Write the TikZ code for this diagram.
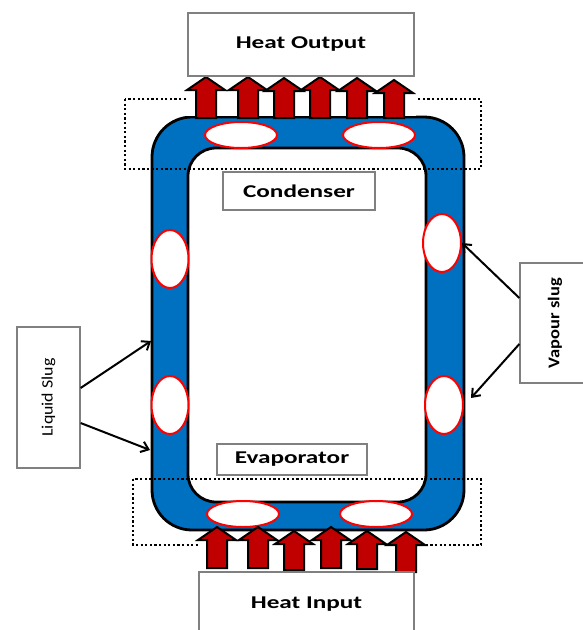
\documentclass[tikz,border=0pt]{standalone}
\usepackage{fontspec}
\setmainfont{Carlito}
\usetikzlibrary{arrows.meta,calc,shapes.geometric}
\definecolor{tubeblue}{HTML}{0070C0}
\definecolor{heatred}{HTML}{C00000}
\definecolor{boxgray}{HTML}{808080}
% block arrow: centre x, tip y, shaft end y
\newcommand\heatarrow[3]{\filldraw[heat] (#1-10,#3) -- (#1-10,#2+13) -- (#1-19,#2+13) -- (#1,#2) -- (#1+19,#2+13) -- (#1+10,#2+13) -- (#1+10,#3) -- cycle;}
\newcommand\widetext[1]{\scalebox{1.4}[1]{#1}}
\tikzset{
  labelbox/.style={draw=boxgray, line width=1.3pt, fill=white, inner sep=0pt},
  boldlabel/.style={font=\bfseries\fontsize{18}{18}\selectfont},
  bubble/.style={ellipse, draw=red, line width=2pt, fill=white, inner sep=0pt},
  heat/.style={fill=heatred, draw=black, line width=2pt, line join=miter},
  zone/.style={draw=black, line width=2.2pt, dash pattern=on 2.2pt off 2.4pt},
  pointer/.style={draw=black, line width=2pt, -{Straight Barb[length=7pt,width=11pt]}},
  tube/.style={draw=black, line width=2.8pt},
}
\begin{document}
\begin{tikzpicture}[x=1pt,y=-1pt]
\useasboundingbox (0,0) rectangle (582,630);

% pulsating loop
\filldraw[tube, fill=tubeblue, rounded corners=40pt] (152,117) rectangle (464,530);
\filldraw[tube, fill=white, rounded corners=28pt] (188,148) rectangle (426,502);

% vapour bubbles
\node[bubble, minimum width=72, minimum height=26] (t1) at (241,135) {};
\node[bubble, minimum width=72, minimum height=26] (t2) at (379,135) {};
\node[bubble, minimum width=72, minimum height=26] (b1) at (243,514) {};
\node[bubble, minimum width=72, minimum height=26] (b2) at (376,514) {};
\node[bubble, minimum width=37, minimum height=58] (l1) at (170,259) {};
\node[bubble, minimum width=37, minimum height=58] (l2) at (170,405) {};
\node[bubble, minimum width=38, minimum height=58] (v1) at (442,243) {};
\node[bubble, minimum width=38, minimum height=58] (v2) at (444,405) {};

% condenser and evaporator zones
\draw[zone] (125,99) rectangle (481,169);
\draw[zone] (133,479) rectangle (481,545);

% heat leaving the condenser
\fill[white] (186,90) rectangle (416,116);
\heatarrow{206}{77}{118}
\heatarrow{248}{77}{118}
\heatarrow{284}{78}{118}
\heatarrow{320}{77}{118}
\heatarrow{357}{78}{118}
\heatarrow{394}{80}{118}

% heat entering the evaporator
\fill[white] (198,544) rectangle (424,570);
\heatarrow{217}{527}{568}
\heatarrow{258}{527}{568}
\heatarrow{294}{531}{570}
\heatarrow{331}{527}{568}
\heatarrow{367}{531}{569}
\heatarrow{406}{532}{572}

% labels
\node[labelbox, boldlabel, minimum width=226, minimum height=63] (output) at (301,44.5) {\widetext{Heat Output}};
\node[labelbox, boldlabel, minimum width=215, minimum height=68] (input) at (306.5,606) {\raisebox{6pt}{\widetext{Heat Input}}};
\node[labelbox, boldlabel, minimum width=152, minimum height=38] (cond) at (299,191) {\widetext{Condenser}};
\node[labelbox, boldlabel, minimum width=150, minimum height=31] (evap) at (292,459.5) {\widetext{Evaporator}};
\node[labelbox, rotate=90, minimum width=141, minimum height=63] (liquid) at (48.5,397.5)
  {\resizebox{78pt}{11pt}{Liquid Slug}};
\node[labelbox, rotate=90, minimum width=120, minimum height=70] (vapour) at (555,323)
  {\resizebox{90pt}{11.5pt}{\bfseries Vapour slug}};

% pointers
\coordinate (lt) at (151,341);
\coordinate (lb) at (150,450);
\draw[pointer] ($(liquid.south)+(0,-9.5)$) -- (lt);
\draw[pointer] ($(liquid.south)+(0,25.5)$) -- (lb);
\draw[pointer] ($(vapour.north)+(0,-25)$) -- (v1.east);
\draw[pointer] ($(vapour.north)+(0,21)$) -- ($(v2.east)+(7,-7)$);
\end{tikzpicture}
\end{document}
